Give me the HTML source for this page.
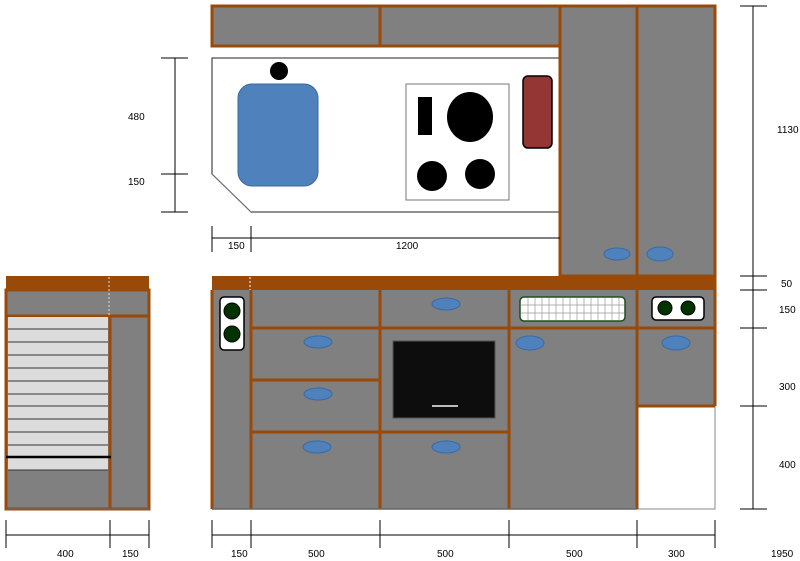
<!DOCTYPE html>
<html><head><style>
html,body{margin:0;padding:0;background:#fff;}
svg{display:block;}
text{font-family:"Liberation Sans",sans-serif;font-size:10px;fill:#000;}
</style></head><body>
<svg width="800" height="561" viewBox="0 0 800 561" xmlns="http://www.w3.org/2000/svg">
<g stroke="#9a4a08" stroke-width="3" fill="#808080">
<!-- wall cabinets -->
<rect x="212" y="6" width="168" height="40"/>
<rect x="380" y="6" width="180" height="40"/>
<rect x="560" y="6" width="77" height="270"/>
<rect x="637" y="6" width="78" height="270"/>
</g>
<!-- worktop plan -->
<polygon points="212,58 560,58 560,212 251,212 212,174" fill="#fff" stroke="#222" stroke-width="1"/>
<line x1="212" y1="174" x2="251" y2="212" stroke="#777" stroke-width="1"/>
<circle cx="279" cy="71" r="9" fill="#000"/>
<rect x="238" y="84" width="80" height="102" rx="14" fill="#4f81bd" stroke="#3a6aa0"/>
<rect x="406" y="84" width="103" height="116" fill="#fff" stroke="#777"/>
<rect x="418" y="97" width="14" height="38" fill="#000"/>
<ellipse cx="470" cy="117" rx="23" ry="25" fill="#000"/>
<circle cx="432" cy="176" r="15" fill="#000"/>
<circle cx="480" cy="174" r="15" fill="#000"/>
<rect x="523" y="76" width="29" height="72" rx="5" fill="#943634" stroke="#000" stroke-width="1.5"/>
<!-- redraw tall cabinet left edge over worktop -->
<rect x="560" y="6" width="77" height="270" fill="#808080" stroke="#9a4a08" stroke-width="3"/>
<ellipse cx="617" cy="254" rx="13" ry="6" fill="#4f81bd" stroke="#3a6aa0"/>
<ellipse cx="660" cy="254" rx="13" ry="7" fill="#4f81bd" stroke="#3a6aa0"/>
<!-- left dims -->
<g stroke="#000" stroke-width="1">
<line x1="175" y1="58" x2="175" y2="212"/>
<line x1="161" y1="58" x2="188" y2="58"/>
<line x1="161" y1="174" x2="188" y2="174"/>
<line x1="161" y1="212" x2="188" y2="212"/>
<line x1="212" y1="238" x2="560" y2="238"/>
<line x1="212" y1="226" x2="212" y2="252"/>
<line x1="251" y1="226" x2="251" y2="252"/>
</g>
<text x="128" y="120">480</text>
<text x="128" y="185">150</text>
<text x="228" y="249">150</text>
<text x="396" y="249">1200</text>
<!-- base cabinets -->
<rect x="212" y="276" width="503" height="14" fill="#9a4a08"/>
<rect x="212" y="290" width="503" height="219" fill="#808080"/>
<rect x="637" y="406" width="78" height="103" fill="#fff" stroke="#888"/>
<g stroke="#9a4a08" stroke-width="3" fill="none">
<line x1="212" y1="290" x2="212" y2="509"/>
<line x1="251" y1="290" x2="251" y2="509"/>
<line x1="380" y1="290" x2="380" y2="509"/>
<line x1="509" y1="290" x2="509" y2="509"/>
<line x1="637" y1="290" x2="637" y2="509"/>
<line x1="715" y1="276" x2="715" y2="406"/>
<line x1="251" y1="328" x2="715" y2="328"/>
<line x1="251" y1="380" x2="380" y2="380"/>
<line x1="251" y1="432" x2="509" y2="432"/>
<line x1="637" y1="406" x2="715" y2="406"/>
</g>
<line x1="212" y1="509" x2="637" y2="509" stroke="#666" stroke-width="1.5"/>
<line x1="250" y1="277" x2="250" y2="290" stroke="#fff" stroke-dasharray="2,2"/>
<g fill="#4f81bd" stroke="#3a6aa0">
<ellipse cx="446" cy="304" rx="14" ry="6"/>
<ellipse cx="318" cy="342" rx="14" ry="6"/>
<ellipse cx="318" cy="394" rx="14" ry="6"/>
<ellipse cx="317" cy="447" rx="14" ry="6"/>
<ellipse cx="446" cy="447" rx="14" ry="6"/>
<ellipse cx="530" cy="343" rx="14" ry="7"/>
<ellipse cx="676" cy="343" rx="14" ry="7"/>
</g>
<rect x="393" y="341" width="102" height="77" fill="#0d0d0d" stroke="#555"/>
<line x1="432" y1="406" x2="458" y2="406" stroke="#bbb" stroke-width="2"/>
<rect x="220" y="297" width="24" height="53" rx="4" fill="#fff" stroke="#000" stroke-width="1.5"/>
<circle cx="232" cy="311" r="8" fill="#003300" stroke="#000"/>
<circle cx="232" cy="334" r="8" fill="#003300" stroke="#000"/>
<rect x="520" y="297" width="105" height="24" rx="4" fill="#fff" stroke="#1e4d1e" stroke-width="1.5"/>
<g stroke="#999" stroke-width="0.7">
<line x1="521" y1="305" x2="624" y2="305"/><line x1="521" y1="313" x2="624" y2="313"/>
<line x1="528" y1="298" x2="528" y2="320"/><line x1="535" y1="298" x2="535" y2="320"/><line x1="542" y1="298" x2="542" y2="320"/><line x1="549" y1="298" x2="549" y2="320"/><line x1="556" y1="298" x2="556" y2="320"/><line x1="563" y1="298" x2="563" y2="320"/><line x1="570" y1="298" x2="570" y2="320"/><line x1="577" y1="298" x2="577" y2="320"/><line x1="584" y1="298" x2="584" y2="320"/><line x1="591" y1="298" x2="591" y2="320"/><line x1="598" y1="298" x2="598" y2="320"/><line x1="605" y1="298" x2="605" y2="320"/><line x1="612" y1="298" x2="612" y2="320"/><line x1="619" y1="298" x2="619" y2="320"/>
</g>
<rect x="652" y="297" width="52" height="23" rx="4" fill="#fff" stroke="#000" stroke-width="1.5"/>
<circle cx="665" cy="308" r="7" fill="#003300" stroke="#000"/>
<circle cx="688" cy="308" r="7" fill="#003300" stroke="#000"/>
<!-- right dims -->
<g stroke="#000" stroke-width="1">
<line x1="753" y1="6" x2="753" y2="509"/>
<line x1="740" y1="6" x2="767" y2="6"/>
<line x1="740" y1="276" x2="767" y2="276"/>
<line x1="740" y1="290" x2="767" y2="290"/>
<line x1="740" y1="328" x2="767" y2="328"/>
<line x1="740" y1="406" x2="767" y2="406"/>
<line x1="740" y1="509" x2="767" y2="509"/>
<line x1="212" y1="535" x2="715" y2="535"/>
<line x1="212" y1="520" x2="212" y2="548"/>
<line x1="251" y1="520" x2="251" y2="548"/>
<line x1="380" y1="520" x2="380" y2="548"/>
<line x1="509" y1="520" x2="509" y2="548"/>
<line x1="637" y1="520" x2="637" y2="548"/>
<line x1="715" y1="520" x2="715" y2="548"/>
<line x1="6" y1="535" x2="149" y2="535"/>
<line x1="6" y1="520" x2="6" y2="548"/>
<line x1="110" y1="520" x2="110" y2="548"/>
<line x1="149" y1="520" x2="149" y2="548"/>
</g>
<text x="777" y="133">1130</text>
<text x="781" y="287">50</text>
<text x="779" y="313">150</text>
<text x="779" y="390">300</text>
<text x="779" y="468">400</text>
<text x="771" y="557">1950</text>
<text x="231" y="557">150</text>
<text x="308" y="557">500</text>
<text x="437" y="557">500</text>
<text x="566" y="557">500</text>
<text x="668" y="557">300</text>
<text x="57" y="557">400</text>
<text x="122" y="557">150</text>
<!-- side view -->
<rect x="6" y="276" width="143" height="14" fill="#9a4a08"/>
<rect x="6" y="290" width="143" height="219" fill="#808080" stroke="#9a4a08" stroke-width="3"/>
<line x1="6" y1="316" x2="149" y2="316" stroke="#9a4a08" stroke-width="3"/>
<line x1="110" y1="316" x2="110" y2="509" stroke="#9a4a08" stroke-width="3"/>
<line x1="109" y1="277" x2="109" y2="316" stroke="#ddd" stroke-dasharray="2,2"/>
<rect x="8" y="317" width="100" height="153" fill="#dcdcdc"/>
<g stroke="#333" stroke-width="1">
<line x1="8" y1="329" x2="108" y2="329"/><line x1="8" y1="342" x2="108" y2="342"/><line x1="8" y1="355" x2="108" y2="355"/><line x1="8" y1="368" x2="108" y2="368"/><line x1="8" y1="381" x2="108" y2="381"/><line x1="8" y1="394" x2="108" y2="394"/><line x1="8" y1="406" x2="108" y2="406"/><line x1="8" y1="419" x2="108" y2="419"/><line x1="8" y1="432" x2="108" y2="432"/><line x1="8" y1="445" x2="108" y2="445"/><line x1="8" y1="470" x2="108" y2="470"/>
</g>
<line x1="6" y1="457" x2="111" y2="457" stroke="#000" stroke-width="2.5"/>
<line x1="6" y1="509" x2="149" y2="509" stroke="#666" stroke-width="1.5"/>
</svg>
</body></html>
